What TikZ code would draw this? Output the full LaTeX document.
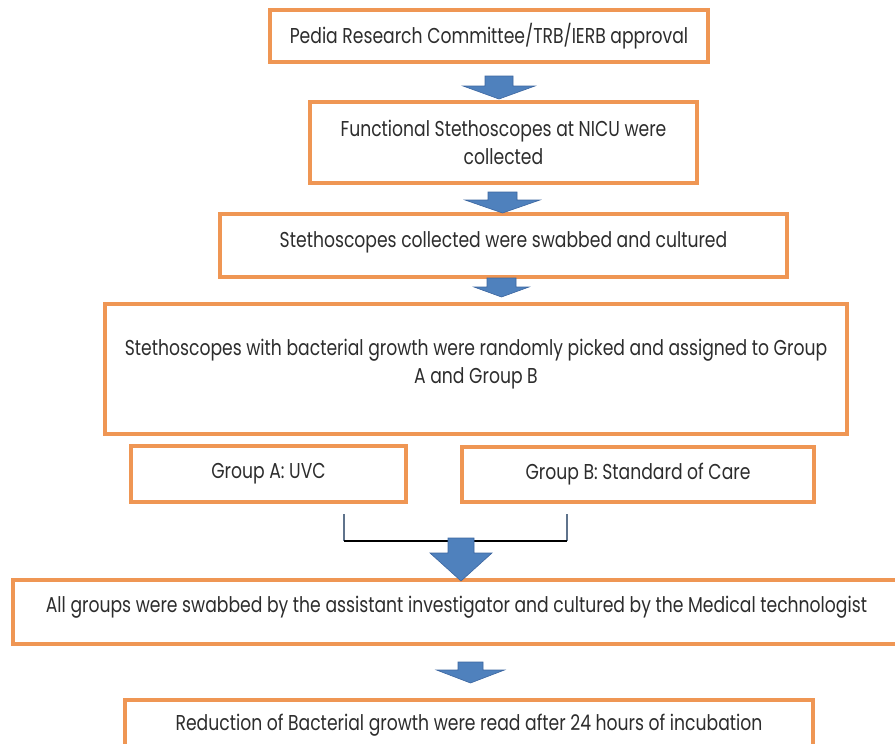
\documentclass[tikz,border=0pt]{standalone}
\usepackage{fontspec}
\setmainfont{Poppins}[FakeStretch=0.8]
\usepackage{tikz}
\usetikzlibrary{positioning}
\definecolor{boxorange}{RGB}{239,150,84}
\definecolor{arrowblue}{RGB}{79,129,189}
\definecolor{arrowedge}{RGB}{60,102,160}
\definecolor{txtgray}{RGB}{45,45,45}
\definecolor{bracketgray}{RGB}{95,115,140}
\newcommand{\clrbox}{boxorange}
\newcommand{\clrarrow}{arrowblue}

\begin{document}
\begin{tikzpicture}[x=1pt, y=-1pt,
    box/.style={draw=\clrbox, line width=3.2pt, fill=white, text=txtgray,
        align=center, inner sep=0pt, font=\fontsize{21.5}{28}\selectfont}]
    \clip (0,0) rectangle (895,744);
    \fill[white] (0,0) rectangle (895,744);
    %boxes of the flow
        \node[box, minimum width=438pt, minimum height=52pt] (b1) at (489,36)
            {Pedia Research Committee/TRB/IERB approval};
        \node[box, minimum width=387pt, minimum height=81pt] (b2) at (503.5,142.5)
            {Functional Stethoscopes at NICU were\\collected};
        \node[box, minimum width=567pt, minimum height=63pt, text depth=11pt] (b3) at (503.5,245.5)
            {Stethoscopes collected were swabbed and cultured};
        \node[box, minimum width=742pt, minimum height=130pt, text depth=16pt] (b4) at (476,369)
            {Stethoscopes with bacterial growth were randomly picked and assigned to Group\\A and Group B};
    %the two groups
        \node[box, minimum width=275pt, minimum height=56pt] (ga) at (268.5,474) {Group A: UVC};
        \node[box, minimum width=352pt, minimum height=55pt] (gb) at (638,474.5) {Group B: Standard of Care};
    %last steps
        \node[box, minimum width=887pt, minimum height=64pt, text depth=16pt] (b5) at (456.5,612)
            {All groups were swabbed by the assistant investigator and cultured by the Medical technologist};
        \node[box, minimum width=688pt, minimum height=50pt] (b6) at (469,725)
            {Reduction of Bacterial growth were read after 24 hours of incubation};
    %bracket under the groups
        \coordinate (kl) at (344,514);
        \coordinate (kr) at (567,514);
        \coordinate (kbl) at (344,541);
        \coordinate (kbr) at (567,541);
        \draw[bracketgray, line width=1.1pt] (kl) -- (kbl);
        \draw[bracketgray, line width=1.1pt] (kr) -- (kbr);
        \draw[black, line width=1.3pt] (kbl) -- (kbr);
    %block arrows: x/top/head/tip/shaft/half head
        \foreach \x/\t/\h/\e/\s/\w in {499/76/86/99/14/36, 502.5/192/200/213/14.5/37.5,
            501.5/278/287/297/14.5/27.5, 461/538/553/581/13/31, 470.5/662/670/683/12.5/34} {
            \filldraw[fill=\clrarrow, draw=arrowedge, line width=0.6pt]
                (\x-\s,\t) -- (\x+\s,\t) -- (\x+\s,\h) -- (\x+\w,\h) -- (\x,\e)
                -- (\x-\w,\h) -- (\x-\s,\h) -- cycle;
        }
\end{tikzpicture}
\end{document}
